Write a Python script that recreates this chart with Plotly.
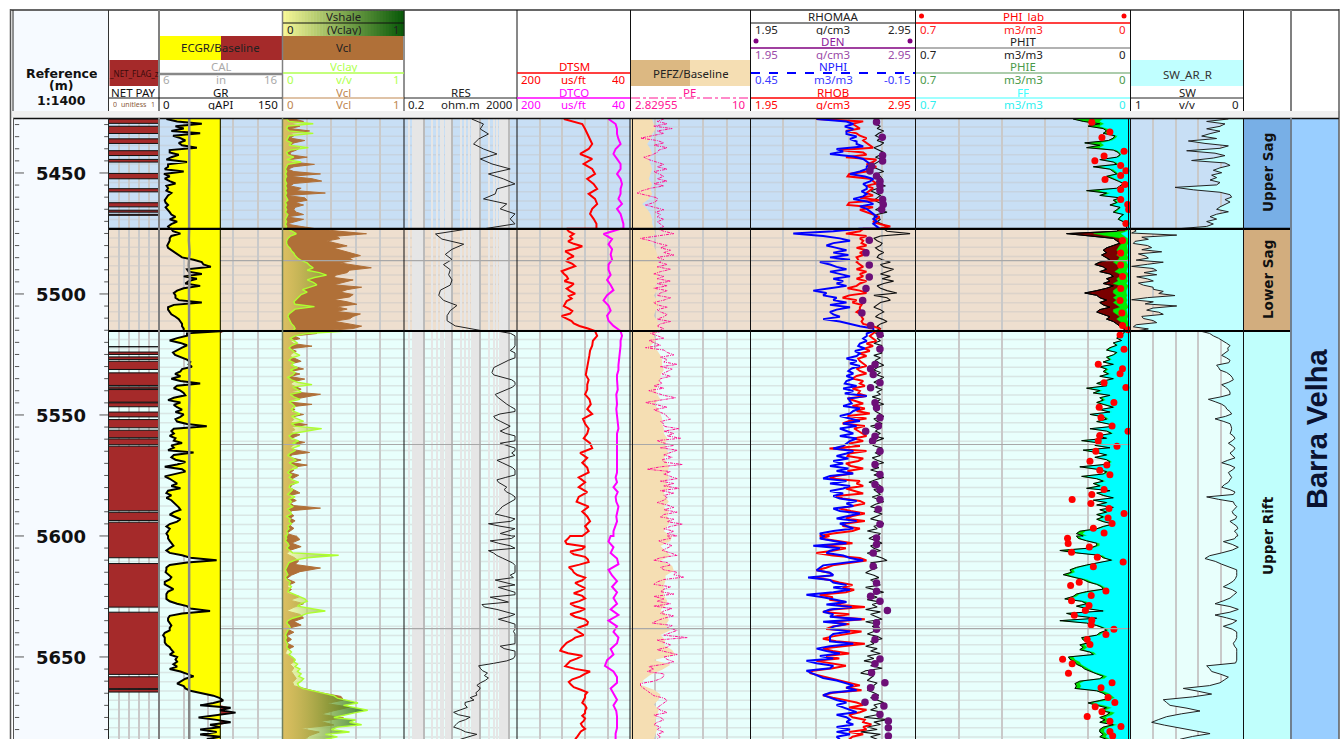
import plotly.graph_objects as go
import numpy as np

W, H = 1344, 739
ZB = [5427.7, 5473.1, 5515.3, 5600.0, 5684.0]
DEPTH_TOP, DEPTH_BOT = 5427.7, 5683.9

# ---------- curves, one list per depth interval (Upper Sag, Lower Sag, Upper Rift x2) ----------
GR_Z = [
 [9,22,52,20,30,15,50,17,26,32,24,28,46,13,13,24,15,9,34,11,11,7,30,6,13,7,13,20,9,11,9,15,11,9,7,8,11,8,11,13,15,20,13,22,15,11,13],
 [15,17,26,15,13,13,11,10,11,15,19,24,28,42,52,54,63,34,36,52,30,46,36,32,50,30,22,18,20,20,24,52,18,11,11,13,15,20,24,26,28,28,30,30],
 [79,34,34,22,13,26,34,28,22,17,19.5,28,34,38,36,40,28,26,19.5,26,15,26,50,22,18,26,30,32,18,11,26,18,22,28,20,30,26,20,22,34,58,18,15,18,13,20,18,28,15,18,11,42,18,15,20,32,22,7,28,32,18,7,13,18,22,15,26,11,9,15,9,15,18,22,24,26,18,13,20,26,22,13,9,13,11,9,11],
 [11,11,13,15,17.5,13,9,13,28,38,70,34,13,9,9,8,11,15,13,7,7,13,17.5,11,9,9,9,13,22,34,38,62,28,13,11,11,13,15,13,13,7,5,7,7,7,9,13,15,17.5,13,22,20,22,17.5,22,13,26,34,42,32,26,22,30,32,38,54,66,74,78,66,50,87,74,93,70,48,70,87,62,74,50,70,50,74,58],
]
CAL_VALUES = [8.45,8.46,8.45,8.44,8.46,8.45,8.44,8.46,8.45,8.44,8.42,8.48,8.4,8.5,8.43,8.45,8.46,8.44,8.45,8.46,8.44,8.45,8.44,8.46,8.44,8.45,8.44,8.46,8.44,8.45,8.44,8.46,8.44,8.44,8.46,8.44,8.45,8.44,8.44,8.46,8.44,8.45,8.44,8.44,8.45,8.46,8.44,8.44,8.44,8.45,8.44,8.45]
VCL_Z = [
 [.09,.17,.06,.14,.06,.22,.06,.09,.06,.18,.09,.06,.14,.11,.06,.06,.2,.06,.07,.26,.09,.04,.09,.31,.06,.24,.32,.09,.06,.15,.11,.35,.03,.18,.2,.1,.17,.1,.09,.11,.17,.03,.17,.09,.03,.15,.25],
 [.28,.47,.69,.44,.47,.36,.44,.53,.42,.5,.58,.64,.55,.58,.47,.61,.73,.55,.53,.44,.42,.58,.5,.42,.65,.53,.47,.58,.55,.42,.53,.61,.44,.53,.44,.64,.58,.55,.42,.53,.65,.58,.3],
 [.09,.28,.09,.14,.06,.09,.24,.06,.11,.07,.06,.1,.15,.06,.09,.17,.06,.14,.06,.18,.09,.06,.11,.15,.06,.31,.2,.09,.04,.24,.06,.1,.06,.17,.07,.09,.06,.2,.07,.1,.06,.14,.09,.06,.18,.09,.06,.1,.22,.07,.06,.15,.07,.2,.06,.09,.06,.13,.09,.06,.11,.07,.06,.1,.14,.06,.07,.11,.06,.09,.31,.07,.06,.09,.06,.1,.07,.06,.09,.06,.03,.1],
 [.11,.14,.07,.15,.06,.03,.09,.13,.1,.31,.14,.07,.03,.1,.03,.07,.03,.14,.06,.17,.09,.03,.14,.17,.09,.15,.03,.09,.03,.07,.03,.09,.03,.02,.08,.1,.06,.09,.07,.09,.11,.08,.09,.2,.32,.48,.5,.36,.55,.42,.31,.5,.31,.42,.14,.3,.22,.18],
]
VCLAY_Z = [
 [.03,.05,.25,.04,.03,.05,.25,.05,.04,.03,.07,.05,.21,.06,.03,.04,.09,.03,.15,.04,.03,.02,.03,.02,.03,.02,.02,.03,.02,.03,.02,.03,.02,.03,.04,.02,.03,.02,.03,.02,.04,.03,.02,.03,.02,.03,.02],
 [.04,.08,.11,.06,.04,.03,.03,.04,.06,.07,.09,.1,.12,.15,.2,.22,.25,.2,.3,.36,.26,.2,.25,.28,.22,.16,.2,.15,.13,.11,.09,.1,.26,.1,.07,.05,.04,.05,.06,.07,.09,.1,.08],
 [.53,.2,.1,.06,.09,.12,.07,.05,.08,.1,.14,.07,.05,.09,.07,.12,.06,.1,.08,.04,.07,.12,.24,.08,.12,.15,.06,.09,.14,.05,.08,.1,.07,.09,.14,.07,.12,.17,.07,.1,.32,.2,.08,.05,.07,.13,.08,.14,.08,.1,.06,.04,.07,.11,.05,.08,.12,.06,.04,.07,.05,.08,.13,.06,.05,.08,.06,.04,.1,.05,.07,.05,.08,.04,.06,.07,.03,.06,.05,.07,.04,.05,.03,.04,.03],
 [.02,.03,.02,.04,.05,.03,.06,.08,.46,.2,.1,.05,.04,.03,.02,.03,.04,.02,.03,.06,.05,.07,.05,.04,.09,.14,.18,.2,.15,.12,.22,.35,.2,.15,.08,.04,.03,.05,.06,.04,.03,.02,.03,.02,.03,.04,.03,.05,.07,.05,.08,.1,.09,.12,.1,.14,.12,.15,.13,.17,.15,.12,.13,.16,.25,.35,.42,.45,.55,.62,.5,.6,.7,.6,.5,.42,.6,.55,.65,.45,.4,.55,.35,.45,.35],
]
RES_Z = [
 [50,130,100,195,88,58,130,390,100,260,1150,195,670,1700,390,340,130,870,510,1700,1150,1700,130],
 [38,2.6,4.4,26,10,5.8,10,5,8.7,7.6,10,8.7,3.9,3.4,5,15,8.7,6.7,6.7,13,130],
 [390,1200,1700,1700,1700,1700,1700,1500,1150,1700,1700,1700,1000,670,500,300,280,260,300,600,1300,1700,1700,1400,870,500,340,400,510,650,870,1200,1700,1700,500,300,350,510,800,1150,800,510,800,1700,1700,1700,510,1000,1700,1700,1300,1700,800,390,600,870,1400,1700,1700,1700,800,390,440,600,870,700,870,1300,1700,1700,1200,870,600,510,400,340,800,1700,1200,195,500,1700,1000,510,1300],
 [1700,1300,225,450,1150,1700,195,300,390,600,870,1400,1700,1700,1700,1700,1150,1500,340,700,1700,440,900,1700,1700,225,500,1000,115,140,390,800,1700,1000,440,900,1700,1700,1700,1500,1700,1700,1700,1700,1700,510,700,1700,1700,1700,1500,870,300,88,100,120,180,140,195,150,100,76,100,90,70,76,44,60,29,29,35,20,11.4,17,44,30,17,14,11.4,20,30,76,40,20],
]
DTSM_Z = [
 [134,108,104,101,97,94,99,111,94,106,94,90,101,92,87,99,90,87,94,97,92,88,88],
 [130,127,120,125,122,128,120,108,118,132,125,120,128,130,122,118,128,137,134,130,128,133,120,124,130,125,118,127,123,130,132,134,127,122,125,137,130,123,120,112,100,90],
 [90,87,93,94,97,98,99,101,102,103,99,101,101,104,98,96,101,94,107,104,99,101,106,97,94,111,101,108,101,99,113,104,113,101,113,116,99,108,101,97,104,99,108],
 [125,128,132,130,104,108,125,120,104,100,99,112,127,122,120,115,104,108,118,112,104,110,120,108,104,112,125,118,104,112,125,118,104,100,101,112,118,112,106,118,123,130,134,137,139,128,108,115,125,128,132,118,97,105,111,122,127,124,120,110,101,104,104,106,108,104,102,104,104,108,104,106,110,108,104,110,112,115,118],
]
DTCO_Z = [
 [71,61,59,59,57,54,61,64,59,54,54,59,54,52,54,54,57,52,59,54,52,50,50],
 [54,78,66,71,66,68,66,71,71,68,73,68,64,73,78,71,68,73,71,64,54],
 [54,52,54,54,55,55,57,57,57,59,59,59,58,60,59,59,60,59,59,57,57,59,59,60,59,59,59,60,59,59,61,59,64,58,61,60,57,59,60,59,61,64,64],
 [68,71,64,68,59,57,71,66,59,66,59,64,59,68,57,71,59,64,57,59,68,64,73,76,64,59,59,68,64,59,64,60,59,59,59,61,61],
]
PE_Z = [
 [4.8,4.4,5,4.2,5.3,4.4,4.8,4.1,3.4,4.4,4.8,4.2,5,4.5,4.4,4.1,3.6,3.9,4.4,4.8,4.4,5,4.2,4.5,4.8,4.4,5,4.2,4.8,4,3.5,3.2,3.9,4.4,4.4,4.2,3.7,4.2,4.8,4.3,4.6,4.4,4.8,4.4,4.6,4.8,4.4],
 [4.4,4.8,5.4,4.4,3.4,4,4.4,5,4.6,5.2,4.8,5.4,4.4,4.8,4.5,5,4.4,5.2,4.6,4.2,4.8,4.4,5.2,4.4,5,4.2,5,4.6,4.4,5.2,4.8,4.2,4.4,5,4.4,4.6,5,4.8,4.4,5.2,4.6,4.4,4.8,4.5],
 [4.8,4,4.4,4.8,3.9,4.2,4.6,3.7,4.8,5,5.4,4.6,5,4.8,5.6,4.6,5.3,5,4.7,5.2,4.6,4.5,4.7,4.2,4.8,3.9,4.4,4.8,5.5,4.6,3.7,4.4,5,4.2,4.6,4.9,5,5.2,4.6,4.8,4.8,5.7,4.8,5.4,5,5.8,4.4,4.8,5.4,4.6,5.6,5.2,4.8,5.3,4.7,4.8,5.9,4.6,3.8,5.2,4.8,5.2,5.6,4.6,5.4,4.8,5.7,4.6,5.4,4.8,5,4.8,4.4,5,5.4,4.8,5.6,4.8,4.6,5.4,5,5.9,5.2,4.8,5.4,5,5.6],
 [5,5.2,4.5,4.8,5.3,5,4.7,5.2,5.6,4.6,4.2,5,5.2,4.6,4.8,5.6,5.4,6,4.8,4.4,4.2,5.2,4.8,4.6,5.4,4.2,4.8,4.4,5.2,4.2,5.3,4.8,4.6,5.4,4.8,4.4,4.1,5.3,5,5.6,5.2,4.8,6.2,4.4,4.8,5.2,5,4.4,5,5.6,4.8,5,5.4,4.8,3.9,4.2,3.8,4.8,4.8,4.6,4.2,3.4,3.4,3.6,3.8,4,4.2,4.8,5,4.8,4.6,4.4,4.6,5,4.2,4.6,4.8,4.4,4.2,4.6,4.4,4.8,4.4,4.6,4.4],
]
PEFZ_Z = [
 [4.1,4.2,4.3,4.1,4.0,3.8,4.0,4.1,3.9,4.0,4.1,4.0,3.9,4.1,4.0,4.1,3.9,3.5,3.8,4.0,4.1,4.1,4.2],
 [4.2,4.3,3.7,4.1,4.3,4.4,4.5,4.4,4.6,4.4,4.5,4.3,4.4,4.2,4.4,4.5,4.3,4.2,4.4,4.5,4.4],
 [4.4,4.2,4.3,4.0,4.4,4.6,4.7,4.7,4.8,4.6,4.6,4.5,4.3,4.4,4.6,4.2,4.5,4.6,4.7,4.7,4.8,4.8,5,4.9,4.9,5.1,4.8,5.0,5.1,5,5.1,4.9,5.2,4.8,4.9,5.1,4.8,5.1,5,5.2,5.0,4.8,5.2],
 [5.3,5.2,4.6,4.9,5.2,4.6,5.3,5.4,4.9,4.9,4.8,4.8,4.8,5.0,4.9,4.6,5.0,5.1,4.9,5.2,4.6,4.9,4.8,5.3,5.5,4.2,5.2,4.7,4.0,3.6,3.4,4.2,4.6,4.5,4.2,4.5,4.4,4.3,4.3,4.4,4.3,4.2],
]
RHOB_Z = [
 [2.35,2.635,2.57,2.595,2.615,2.53,2.595,2.615,2.655,2.635,2.655,2.675,2.695,2.49,2.635,2.655,2.53,2.715,2.695,2.655,2.715,2.675,2.655,2.55,2.54,2.675,2.695,2.715,2.655,2.695,2.675,2.655,2.695,2.615,2.735,2.55,2.54,2.695,2.615,2.655,2.695,2.735,2.715,2.695,2.735,2.8,2.715],
 [2.635,2.615,2.53,2.655,2.615,2.635,2.625,2.655,2.595,2.655,2.615,2.635,2.595,2.605,2.595,2.615,2.635,2.595,2.655,2.615,2.635,2.595,2.655,2.615,2.595,2.54,2.615,2.655,2.55,2.51,2.595,2.57,2.625,2.615,2.615,2.595,2.625,2.625,2.635,2.625,2.635,2.695,2.735,2.735],
 [2.715,2.695,2.675,2.695,2.715,2.655,2.695,2.645,2.675,2.615,2.655,2.605,2.615,2.635,2.655,2.595,2.615,2.655,2.595,2.57,2.635,2.615,2.645,2.57,2.615,2.605,2.655,2.54,2.595,2.635,2.57,2.645,2.595,2.675,2.54,2.655,2.55,2.51,2.645,2.58,2.605,2.635,2.655,2.58,2.635,2.55,2.615,2.43,2.655,2.55,2.54,2.635,2.605,2.53,2.56,2.635,2.54,2.57,2.47,2.43,2.615,2.595,2.635,2.53,2.58,2.635,2.47,2.51,2.615,2.645,2.57,2.49,2.56,2.645,2.57,2.53,2.645,2.53,2.51,2.615,2.57,2.45,2.37],
 [2.43,2.38,2.47,2.57,2.39,2.53,2.45,2.35,2.45,2.615,2.655,2.55,2.45,2.41,2.35,2.43,2.45,2.34,2.43,2.49,2.57,2.51,2.58,2.53,2.37,2.45,2.43,2.53,2.47,2.645,2.45,2.39,2.55,2.45,2.645,2.43,2.55,2.45,2.41,2.625,2.53,2.45,2.39,2.47,2.645,2.53,2.39,2.45,2.55,2.41,2.49,2.35,2.43,2.53,2.45,2.33,2.31,2.37,2.43,2.49,2.55,2.615,2.53,2.625,2.45,2.39,2.45,2.53,2.595,2.635,2.55,2.655,2.615,2.55,2.57,2.645,2.635,2.685,2.635,2.655,2.55,2.635,2.57,2.55],
]
NPHI_Z = [
 [.209,.1,.075,.106,.075,.1,.1,.063,.087,.063,.063,.039,.136,.112,.16,.075,.039,.026,.014,.026,.026,.051,.087,.033,.002,.014,.039,.026,.026,.045,.026,.039,.075,.026,.002,.051,.026,.014,.002,-.01,.002,-.01,.002,-.01,-.022],
 [.051,.148,.294,.185,.124,.087,.148,.173,.136,.1,.148,.093,.16,.087,.197,.16,.136,.1,.16,.124,.087,.148,.112,.136,.1,.16,.221,.173,.185,.136,.148,.1,.16,.087,.136,.16,.148,.124,.185,.124,.087,.051,.002,.002],
 [.002,.026,.026,.039,.026,.051,.057,.033,.069,.051,.063,.1,.063,.087,.051,.081,.093,.075,.1,.075,.1,.106,.063,.112,.075,.106,.026,.093,.087,.081,.112,.051,.075,.087,.124,.087,.051,.112,.063,.124,.1,.075,.124,.063,.087,.1,.112,.148,.075,.1,.136,.093,.148,.112,.16,.093,.136,.075,.16,.185,.1,.16,.087,.112,.16,.112,.148,.124,.063,.1,.075,.148,.124,.051,.1,.136,.063,.124,.1,.075,.148,.197,.185],
 [.179,.197,.148,.1,.221,.124,.16,.173,.112,.087,.039,.112,.185,.197,.209,.16,.148,.24,.16,.148,.1,.148,.087,.148,.246,.185,.148,.1,.173,.081,.16,.185,.148,.16,.045,.185,.1,.148,.16,.087,.148,.16,.16,.16,.075,.16,.209,.173,.124,.197,.148,.246,.209,.148,.16,.246,.227,.209,.185,.136,.1,.075,.1,.063,.16,.185,.16,.136,.1,.136,.112,.087,.063,.136,.1,.087,.1,.075,.136,.087,.136,.087,.136,.124],
]
RHOMAA_Z = [
 [2.71,2.72,2.70,2.74,2.72,2.76,2.73,2.71,2.74,2.72,2.76,2.74,2.70,2.73,2.76,2.74,2.71,2.75,2.72,2.70,2.69,2.73,2.76,2.71,2.74,2.75,2.72,2.70,2.77,2.73,2.68,2.71,2.74,2.72,2.70,2.73,2.76,2.74,2.71,2.78,2.72,2.70,2.74,2.72,2.75,2.78,2.74],
 [2.76,2.78,2.92,2.74,2.70,2.72,2.75,2.74,2.71,2.73,2.76,2.73,2.72,2.75,2.80,2.74,2.76,2.82,2.78,2.74,2.80,2.75,2.82,2.76,2.72,2.74,2.78,2.84,2.70,2.78,2.80,2.74,2.72,2.70,2.74,2.76,2.73,2.71,2.75,2.78,2.74,2.72,2.74,2.71],
 [2.74,2.71,2.76,2.72,2.74,2.70,2.75,2.72,2.73,2.75,2.70,2.74,2.71,2.73,2.76,2.72,2.70,2.74,2.72,2.76,2.73,2.70,2.74,2.71,2.75,2.72,2.74,2.69,2.74,2.72,2.76,2.70,2.73,2.71,2.74,2.76,2.70,2.72,2.75,2.68,2.73,2.71,2.74,2.70,2.76,2.72,2.68,2.70,2.75,2.73,2.71,2.74,2.69,2.72,2.76,2.70,2.73,2.68,2.74,2.70,2.76,2.71,2.67,2.73,2.75,2.70,2.72,2.74,2.69,2.72,2.76,2.71,2.68,2.74,2.70,2.75,2.72,2.68,2.74,2.76,2.70,2.72,2.66,2.74,2.72],
 [2.70,2.67,2.72,2.75,2.68,2.70,2.74,2.66,2.71,2.75,2.78,2.68,2.70,2.72,2.68,2.65,2.70,2.73,2.68,2.71,2.74,2.65,2.70,2.76,2.68,2.72,2.66,2.74,2.69,2.72,2.65,2.74,2.68,2.71,2.75,2.65,2.72,2.69,2.74,2.70,2.66,2.72,2.75,2.68,2.70,2.65,2.72,2.68,2.74,2.66,2.70,2.64,2.72,2.68,2.75,2.65,2.62,2.70,2.68,2.66,2.72,2.70,2.70,2.66,2.70,2.73,2.68,2.72,2.76,2.70,2.72,2.68,2.75,2.72,2.64,2.78,2.70,2.74,2.66,2.72,2.62,2.74,2.68,2.72],
]
DEN_DEPTH = [5428.9,5435.2,5442.8,5445.1,5447.2,5449.2,5451.3,5453.4,5455.2,5457.2,5461,5463,5465.1,5477.8,5483,5488,5493,5497.7,5502.7,5507.9,5513,5516.7,5522.7,5529.1,5530.9,5533.3,5536.7,5538.8,5545,5547,5551.2,5554.6,5556.7,5558.8,5560.8,5565,5570.5,5574.6,5578.7,5580.8,5584.9,5589,5595.2,5600.8,5603.5,5607,5612.5,5619.4,5622.8,5624.9,5627,5630.8,5635.9,5638.6,5642.8,5650.8,5652.8,5656.5,5660.7,5662.7,5666.6,5668.7,5670.3,5673.8,5676.5,5679.3,5682.7]
DEN_VALUES = [2.716,2.751,2.753,2.753,2.686,2.676,2.716,2.737,2.737,2.737,2.753,2.757,2.747,2.672,2.652,2.672,2.672,2.652,2.632,2.627,2.68,2.737,2.737,2.707,2.68,2.696,2.737,2.68,2.707,2.716,2.737,2.727,2.65,2.707,2.692,2.737,2.707,2.737,2.707,2.737,2.737,2.727,2.737,2.716,2.716,2.696,2.696,2.716,2.716,2.68,2.737,2.782,2.716,2.716,2.707,2.737,2.707,2.686,2.767,2.68,2.707,2.646,2.761,2.737,2.788,2.788,2.788]
PHIT_Z = [
 [.187,.154,.100,.138,.089,.078,.089,.051,.056,.072,.149,.100,.143,.056,.040,.034,.045,.100,.056,.045,.121,.067,.056,.045,.078,.056,.040,.023,.034,.045,.143,.078,.100,.034,.056,.045,.067,.034,.045,.056,.023,.034,.040,.023,.013,.013,.013],
 [.034,.045,.208,.121,.056,.045,.034,.056,.078,.089,.078,.094,.078,.067,.1,.116,.089,.078,.1,.067,.056,.078,.067,.089,.056,.078,.11,.149,.11,.1,.078,.1,.089,.067,.1,.11,.089,.067,.078,.056,.045,.034,.023,.013],
 [.018,.023,.034,.045,.029,.056,.045,.067,.078,.045,.056,.078,.067,.089,.056,.1,.078,.089,.072,.1,.056,.089,.11,.078,.143,.1,.121,.067,.1,.089,.11,.078,.056,.1,.067,.132,.089,.078,.11,.072,.056,.132,.078,.062,.11,.078,.159,.1,.116,.067,.154,.11,.078,.116,.078,.067,.083,.165,.11,.078,.089,.159,.11,.089,.121,.1,.143,.067,.11,.089,.056,.121,.078,.11,.056,.1,.078,.11,.089,.11,.089,.056,.089,.11,.165,.176,.154],
 [.176,.17,.143,.11,.11,.132,.23,.176,.1,.089,.062,.11,.143,.176,.197,.192,.219,.187,.154,.138,.11,.094,.089,.143,.176,.187,.214,.159,.143,.176,.143,.089,.208,.176,.11,.23,.143,.11,.089,.078,.1,.11,.159,.154,.132,.165,.154,.165,.132,.121,.202,.197,.181,.176,.159,.149,.132,.11,.089,.1,.165,.181,.176,.181,.11,.089,.078,.067,.1,.138,.11,.078,.1,.067,.078,.1,.083,.1,.056,.089,.1,.1,.089,.1,.078],
]
PHIE_LOWER = [.013,.018,.12,.08,.03,.03,.025,.035,.04,.045,.035,.045,.035,.04,.056,.045,.034,.04,.051,.034,.034,.045,.04,.056,.034,.045,.056,.056,.045,.056,.045,.056,.045,.034,.056,.056,.045,.034,.045,.034,.023,.018,.013,.007]
FF_Z = [
 [.09,.10,.085,.10,.075,.068,.075,.042,.047,.06,.095,.085,.10,.045,.034,.03,.038,.085,.047,.038,.095,.056,.047,.038,.065,.047,.034,.02,.03,.038,.10,.065,.085,.03,.047,.038,.056,.03,.038,.047,.02,.03,.034,.02,.012,.012,.012],
 [.007,.01,.03,.02,.008,.008,.006,.01,.008,.008,.007,.01,.006,.008,.012,.008,.007,.01,.012,.006,.007,.01,.008,.012,.006,.01,.012,.012,.01,.012,.01,.012,.01,.006,.012,.01,.01,.007,.01,.007,.006,.005,.005,.005],
 [.015,.02,.03,.04,.026,.05,.04,.06,.07,.04,.05,.07,.06,.08,.05,.09,.07,.08,.065,.09,.05,.08,.1,.07,.125,.09,.11,.06,.09,.08,.1,.07,.05,.09,.06,.12,.08,.07,.1,.065,.05,.12,.07,.055,.1,.07,.14,.09,.105,.06,.135,.1,.07,.105,.07,.06,.075,.145,.1,.07,.08,.14,.1,.08,.11,.09,.125,.06,.1,.08,.05,.11,.07,.1,.05,.09,.07,.1,.08,.1,.08,.05,.08,.1,.145,.155,.14],
 [.165,.16,.135,.1,.1,.12,.2,.16,.09,.08,.055,.1,.13,.165,.185,.18,.2,.175,.14,.125,.1,.085,.08,.13,.165,.175,.195,.145,.13,.165,.13,.08,.19,.165,.1,.205,.13,.1,.08,.07,.09,.1,.145,.14,.12,.15,.14,.15,.12,.11,.185,.18,.165,.16,.145,.135,.12,.095,.075,.085,.15,.165,.16,.165,.09,.07,.06,.05,.075,.12,.085,.06,.08,.05,.06,.08,.065,.08,.04,.07,.085,.085,.075,.08,.065],
]
PHI_LAB_DEPTH = [5429,5433.1,5435.3,5441,5443,5445,5446.9,5449.1,5451,5452.7,5454.8,5456.8,5461,5463,5465.1,5470.9,5477.9,5483.1,5488,5492.8,5497.7,5502.7,5507.9,5513,5514.8,5517,5522.8,5529,5530.9,5533,5536.7,5538.6,5544.8,5546.8,5551,5554.6,5556.7,5558.5,5560.8,5562.9,5565,5569.1,5570.7,5572.8,5574.7,5580.8,5582.9,5584.9,5586.6,5588.6,5590.7,5592.6,5594.8,5596.8,5598.8,5600.9,5603.1,5604.6,5606.7,5608.8,5610.8,5612.7,5619.1,5620.5,5622.7,5624.6,5626.8,5628.7,5630.8,5632.8,5634.8,5636.7,5638.6,5640.7,5642.8,5644.8,5650.9,5652.8,5656.7,5660.7,5662.7,5666.7,5668.8,5670.6,5672.6,5674.6,5676.6,5678.7,5680.8,5682.7]
PHI_LAB_VALUES = [.126,.067,.093,.021,.086,.116,.032,.015,.032,.083,.018,.032,.032,.009,.006,.015,.026,.032,.032,.026,.032,.034,.028,.026,.008,.034,.021,.105,.026,.034,.086,.015,.054,.102,.096,.06,.008,.1,.105,.044,.113,.132,.077,.1,.067,.086,.126,.19,.129,.07,.021,.073,.06,.121,.086,.205,.203,.134,.192,.108,.024,.121,.167,.195,.08,.128,.192,.135,.147,.183,.126,.128,.054,.08,.141,.132,.221,.19,.202,.06,.096,.073,.051,.115,.093,.141,.067,.031,.067,.058]
SW_Z = [
 [.134,.326,.164,.208,.326,.208,.296,.37,.238,.488,.341,.134,.208,.503,.252,.164,.267,.459,.164,.119,.208,.267,.193,.282,.238,.296,.208,.238,.606,.444,.208,.119,.105,.164,.119,.164,.208,.238,.134,.238,.296,.238,.326,.267,.326,.59],
 [.975,.95,.99,.591,.9,.842,.96,.975,.85,.813,.9,.724,.93,.87,.842,.95,.71,.85,.99,.8,.768,.88,.768,.945,.85,.798,.93,.886,.8,.798,.71,.75,.606,.85,.99,.798,.87,.591,.8,.857,.75,.71,.9,.886,.8,.768,.95,.975,.842,.95],
 [.385,.3,.267,.22,.178,.15,.119,.14,.134,.16,.193,.15,.119,.13,.238,.22,.208,.15,.119,.1,.09,.13,.193,.16,.134,.12,.119,.2,.311,.25,.193,.16,.148,.12,.105,.16,.252,.18,.119,.11,.105,.11,.119,.09,.075,.1,.134,.1,.075,.09,.119,.1,.075,.14,.193,.12,.075,.1,.134,.12,.105,.12,.134,.17,.193,.12,.075,.09,.326,.22,.09,.08,.06,.08,.1,.09,.06,.07,.12,.09,.06,.05,.08,.06,.05],
 [.06,.08,.178,.1,.046,.1,.193,.3,.341,.25,.193,.12,.06,.06,.06,.07,.09,.13,.178,.1,.06,.09,.119,.18,.252,.12,.046,.12,.252,.15,.06,.1,.178,.1,.06,.06,.06,.07,.09,.08,.06,.06,.06,.06,.06,.07,.326,.3,.282,.2,.134,.17,.208,.3,.533,.4,.282,.45,.71,.68,.65,.5,.385,.55,.68,.75,.813,.7,.562,.4,.296,.45,.562],
]
NET_TOPS = [5427.7,5430.7,5435.9,5440.8,5444.4,5450.2,5456.5,5462.3,5465.4,5467.1,5521.8,5524,5526,5527.8,5532.6,5538.4,5539.5,5545,5548.8,5551.9,5556.3,5559.9,5562.9,5590.2,5594.3,5611.4,5631.5,5658.2,5663.4]
NET_BASES = [5429.5,5433.7,5437.8,5442.8,5445.5,5452.4,5457.8,5464,5466.2,5467.5,5522.1,5525,5527.1,5531.2,5537.8,5539.2,5544.7,5546.6,5550.8,5555.3,5559.4,5562.3,5589.6,5593.6,5609,5629.4,5657.2,5663.1,5664.5]
DEPTH_LABELS = [5450, 5500, 5550, 5600, 5650]
ZONE_NAMES = ["Upper Sag", "Lower Sag", "Upper Rift"]
ZONE_TOPS = [5427.7, 5473.1, 5515.3]
ZONE_BASES = [5473.1, 5515.3, 5683.9]
ZONE_FILLS = ["#c8dff5", "#eedfcf", "#e8fffc"]
ZONE_TAGS = ["#78afe6", "#d2ad7e", "#c0fffc"]

# ---------- helpers ----------
def X(px): return px / W
def Y(py): return 1 - py / H

def along(parts):
    ds, vs = [], []
    for i, p in enumerate(parts):
        ds += list(np.linspace(ZB[i], ZB[i + 1], len(p)))
        vs += list(p)
    return np.array(ds), np.array(vs, dtype=float)

FONT = "Noto Sans"
fig = go.Figure()
shapes, notes = [], []

def rect(x0, y0, x1, y1, color):
    shapes.append(dict(type="rect", xref="paper", yref="paper", x0=X(x0), x1=X(x1), y0=Y(y0), y1=Y(y1),
                       fillcolor=color, line=dict(width=0), layer="below"))

def hline(x0, x1, py, color, width=1, dash="solid", layer="above"):
    shapes.append(dict(type="line", xref="paper", yref="paper", x0=X(x0), x1=X(x1), y0=Y(py), y1=Y(py),
                       line=dict(color=color, width=width, dash=dash), layer=layer))

def vline(px, y0, y1, color, width=1):
    shapes.append(dict(type="line", xref="paper", yref="paper", x0=X(px), x1=X(px), y0=Y(y0), y1=Y(y1),
                       line=dict(color=color, width=width), layer="above"))

def txt(s, px, py, color="#111", size=11.5, anchor="center", family=FONT, angle=0, tight=True):
    boxed = tight and angle == 0 and size <= 12.5
    n = dict(text=s, x=X(px), y=Y(py - 1 if boxed else py), xref="paper", yref="paper", showarrow=False, xanchor=anchor,
             yanchor="middle", font=dict(color=color, size=size, family=family), textangle=angle,
             borderpad=0, borderwidth=0)
    if boxed:
        n["height"] = 12
    notes.append(n)

def scale(x0, x1, py, lo, unit, hi, color):
    txt(lo, x0 + 4, py, color, anchor="left")
    if unit:
        txt(unit, (x0 + x1) / 2, py, color)
    txt(hi, x1 - 4, py, color, anchor="right")

# ---------- axes ----------
axes = {}
def track(n, px0, px1, rng, dtick=None, tick0=None, log=False, grid=True):
    cfg = dict(domain=[X(px0), X(px1)], range=rng, anchor="y", showticklabels=False, ticks="", zeroline=False,
               showline=False, showgrid=grid, gridcolor="#c9c9c9", gridwidth=2, fixedrange=True)
    if log:
        cfg.update(type="log", dtick=1, gridcolor="#bbbbbb",
                   minor=dict(showgrid=True, dtick="D1", gridcolor="#e6e6e6", gridwidth=1.5, ticks=""))
    elif dtick:
        cfg.update(dtick=dtick, tick0=rng[0] if tick0 is None else tick0)
    axes["xaxis" if n == 1 else f"xaxis{n}"] = cfg
    return "x" if n == 1 else f"x{n}"

xD = track(1, 13, 108.5, [0, 1], grid=False)
xN = track(2, 108.5, 159, [0, 1], dtick=.2)
xG = track(3, 159, 282.5, [0, 150], dtick=30)
xC = track(4, 159, 282.5, [6, 16], grid=False)
xV = track(5, 283, 404, [0, 1], dtick=.2)
xR = track(6, 404, 517, [np.log10(.2), np.log10(2000)], log=True)
xT = track(7, 517, 630.5, [200, 40], dtick=32)
xP = track(8, 631, 750.5, [2.82955, 10], dtick=1.434)
xB = track(9, 750.5, 915, [1.95, 2.95], dtick=.2)
xH = track(10, 915.5, 1130.5, [.7, 0], dtick=.14)
xS = track(11, 1130.5, 1243.5, [1, 0], dtick=.2)

def line(xa, d, v, color, width=1, name="", fill=None, fillcolor=None, dash="solid", **kw):
    fig.add_trace(go.Scatter(x=v, y=d, xaxis=xa, yaxis="y", mode="lines", name=name, showlegend=False,
                             hoverinfo="skip", line=dict(color=color, width=width, dash=dash),
                             fill=fill, fillcolor=fillcolor, **kw))

# ---------- depth column ----------
tick_x, tick_y = [], []
for d in range(5430, 5685, 5):
    major = d % 50 == 0
    a, b = (.02, .115) if major else (.02, .065)
    c, e = (.905, 1) if major else (.955, 1)
    tick_x += [a, b, None, c, e, None]
    tick_y += [d, d, None, d, d, None]
line(xD, tick_y, tick_x, "#555555", 1, "ticks")
for d in DEPTH_LABELS:
    notes.append(dict(text="<b>%d</b>" % d, x=X(60.7), xref="paper", y=d, yref="y", yshift=-0.5, showarrow=False,
                      xanchor="center", yanchor="middle",
                      font=dict(family="DejaVu Sans", size=18, color="#111111")))

# ---------- net pay ----------
nx, ny = [], []
for t, b in zip(NET_TOPS, NET_BASES):
    nx += [0, 1, 1, 0, 0, None]
    ny += [t, t, b, b, t, None]
line(xN, ny, nx, "#111111", 1, "NET PAY", fill="toself", fillcolor="#a52a2a")

# ---------- GR / CAL ----------
gd, gv = along(GR_Z)
base = np.full_like(gv, 75.0)
line(xG, gd, base, "rgba(0,0,0,0)", 0, "base")
line(xG, gd, np.minimum(gv, 75), "rgba(0,0,0,0)", 0, "ECGR", fill="tonextx", fillcolor="#ffff00")
line(xG, gd, base, "rgba(0,0,0,0)", 0, "base")
line(xG, gd, np.maximum(gv, 75), "rgba(0,0,0,0)", 0, "Baseline", fill="tonextx", fillcolor="#a52a2a")
line(xC, np.linspace(DEPTH_TOP, DEPTH_BOT, len(CAL_VALUES)), CAL_VALUES, "#888888", 2.5, "CAL")
line(xG, gd, gv, "#000000", 2, "GR")

# ---------- Vcl / Vclay ----------
d, v = along(VCL_Z)
line(xV, d, v, "#b07038", 1, "Vcl", fill="tozerox", fillcolor="#b07038")
d, v = along(VCLAY_Z)
line(xV, d, v, "#adff2f", 1.4, "Vclay", fill="tozerox",
     fillgradient=dict(type="horizontal", start=0, stop=.75,
                       colorscale=[[0, "rgba(255,255,130,.55)"], [.5, "rgba(130,170,60,.72)"], [1, "rgba(20,100,20,.88)"]]))

# ---------- RES ----------
d, v = along(RES_Z)
line(xR, d, v, "#222222", 1, "RES")

# ---------- sonic ----------
d, v = along(DTSM_Z)
line(xT, d, v, "#ff0000", 2, "DTSM")
d, v = along(DTCO_Z)
line(xT, d, v, "#ff00ff", 2, "DTCO")

# ---------- PE ----------
d, v = along(PEFZ_Z)
line(xP, d, v, "rgba(0,0,0,0)", 0, "PEFZ", fill="tozerox", fillcolor="#f5deb3")
d, v = along(PE_Z)
line(xP, d, v, "#ff1493", 1, "PE", dash="3px,1px,1px,1px")

# ---------- density ----------
d, v = along(RHOMAA_Z)
line(xB, d, v, "#111111", 1.1, "RHOMAA")
d, v = along(RHOB_Z)
line(xB, d, v, "#ff0000", 2, "RHOB")
d, v = along(NPHI_Z)
fig.add_trace(go.Scatter(x=(.45 - v) / .6 + 1.95, y=d, xaxis=xB, yaxis="y", mode="lines", name="NPHI", showlegend=False,
                         hoverinfo="skip", line=dict(color="#0000ff", width=2)))
fig.add_trace(go.Scatter(x=DEN_VALUES, y=DEN_DEPTH, xaxis=xB, yaxis="y", mode="markers", name="DEN", showlegend=False,
                         hoverinfo="skip", marker=dict(color="#6d0f78", size=7.5)))

# ---------- porosity ----------
dz = np.linspace(ZB[1], ZB[2], len(PHIT_Z[1]))
line(xH, dz, PHIT_Z[1], "#000000", 1, "PHIT", fill="tozerox", fillcolor="#7a0000")
line(xH, dz, PHIE_LOWER, "#00dd00", 0.5, "PHIE", fill="tozerox", fillcolor="#00ee00")
for i in (0, 2, 3):
    dz = np.linspace(ZB[i], ZB[i + 1], len(PHIT_Z[i]))
    line(xH, dz, PHIT_Z[i], "#00cc00", .5, "PHIE", fill="tozerox", fillcolor="#00e000")
d, v = along(FF_Z)
line(xH, d, v, "#00ffff", .5, "FF", fill="tozerox", fillcolor="#00ffff")
d, v = along(PHIT_Z)
line(xH, d, v, "#000000", 1, "PHIT")
fig.add_trace(go.Scatter(x=PHI_LAB_VALUES, y=PHI_LAB_DEPTH, xaxis=xH, yaxis="y", mode="markers", name="PHI_lab",
                         showlegend=False, hoverinfo="skip", marker=dict(color="#ff0000", size=7)))

# ---------- SW ----------
d, v = along(SW_Z)
line(xS, d, v, "#222222", 1, "SW", fill="tozerox", fillcolor="#c0ffff")

# ---------- backgrounds ----------
rect(10, 9, 1340, 739, "#ffffff")
rect(13, 11, 108, 111, "#f6faff")
rect(13, 118, 108, 739, "#f6faff")
for t, b, c, tag in zip(ZONE_TOPS, ZONE_BASES, ZONE_FILLS, ZONE_TAGS):
    shapes.append(dict(type="rect", xref="paper", yref="y", x0=X(108.5), x1=X(1243.5), y0=t, y1=b,
                       fillcolor=c, line=dict(width=0), layer="below"))
    shapes.append(dict(type="rect", xref="paper", yref="y", x0=X(1243.5), x1=X(1291), y0=t, y1=b,
                       fillcolor=tag, line=dict(width=0), layer="below"))
shapes.append(dict(type="rect", xref="paper", yref="y", x0=X(1291), x1=X(1338.5), y0=DEPTH_TOP, y1=DEPTH_BOT,
                   fillcolor="#99ceff", line=dict(width=0), layer="below"))
d = 5431.0
while d < DEPTH_BOT:
    shapes.append(dict(type="line", xref="paper", yref="y", x0=X(108.5), x1=X(1130), y0=d, y1=d,
                       line=dict(color="rgba(195,195,195,.42)", width=1.5), layer="below"))
    d += 3.82
for d in (5486.2, 5562.2, 5638.3):
    shapes.append(dict(type="line", xref="paper", yref="y", x0=X(220), x1=X(1130), y0=d, y1=d,
                       line=dict(color="#a8a8a8", width=1.2), layer="above"))
for d in (5473.1, 5515.3):
    shapes.append(dict(type="line", xref="paper", yref="y", x0=X(108.5), x1=X(1291), y0=d, y1=d,
                       line=dict(color="#000000", width=2.2), layer="above"))

# grey band between header and tracks
rect(10, 111, 1340, 118, "#f0f0f0")
hline(10, 1339, 10, "#333333", 1.5)
hline(13, 1339, 118.5, "#111111", 1.5)
vline(10.5, 9, 739, "#555555", 1.5)
vline(13, 10, 111, "#222222", 1)
vline(13.5, 118, 739, "#555555", 1)
vline(1339, 9, 739, "#333333", 1.2)

for px, c, w in [(108.5, "#333333", 1), (159, "#808080", 2), (282.5, "#808080", 1.5), (404, "#222222", 1),
                 (517, "#111111", 1), (630.5, "#111111", 1), (750.5, "#111111", 1), (915.5, "#111111", 1),
                 (1130.5, "#111111", 1), (1243.5, "#111111", 1), (1291, "#808080", 2)]:
    vline(px, 10, 111, c, w)
for px, c, w in [(108.5, "#222222", 1), (159, "#808080", 2), (220.3, "#000000", 1), (282.5, "#708060", 1.5),
                 (404, "#111111", 1), (517, "#111111", 1), (630, "#111111", 1), (632.5, "#111111", 1),
                 (750.5, "#111111", 1), (915.5, "#111111", 1), (1128.5, "#111111", 1), (1130.5, "#111111", 1),
                 (1243.5, "#111111", 1), (1291, "#708090", 2)]:
    vline(px, 118, 739, c, w)

# ---------- header ----------
txt("<b>Reference</b>", 61, 74, "#111", 12.5, family="DejaVu Sans")
txt("<b>(m)</b>", 61, 86.5, "#111", 12.5, family="DejaVu Sans")
txt("<b>1:1400</b>", 61, 101, "#111", 12.5, family="DejaVu Sans")

# net pay
rect(109.5, 60, 158, 86, "#a52a2a")
txt("_NET_FLAG_z", 133.5, 73.5, "#3a0a0a", 8)
txt("NET PAY", 133.5, 93, "#111")
hline(109, 159, 98, "#111111", 1)
scale(109, 159, 105, "0", "unitless", "1", "#8a5a3a")
for n in notes[-3:]:
    n["font"]["size"] = 7
# GR
rect(159.5, 36, 221, 60, "#ffff00")
rect(221, 36, 282, 60, "#a52a2a")
txt("ECGR/Baseline", 220.5, 48, "#222")
txt("CAL", 221, 67, "#aaaaaa")
hline(159, 282, 74, "#888888", 2.5)
scale(159, 282, 80, "6", "in", "16", "#aaaaaa")
txt("GR", 221, 93, "#111")
hline(159, 282, 98, "#111111", 1.2)
scale(159, 282, 105, "0", "gAPI", "150", "#111")
# Vshale gradient header
c0, c1 = np.array([246, 246, 150]), np.array([10, 90, 10])
for i in range(40):
    c = c0 + (c1 - c0) * i / 39
    rect(283 + 121 * i / 40, 10.5, 283 + 121 * (i + 1) / 40 + .5, 36, "rgb(%d,%d,%d)" % tuple(c))
txt("Vshale", 343.5, 17, "#222")
hline(283, 404, 23, "#111111", 1)
txt("0", 287, 30, "#222", anchor="left")
txt("(Vclay)", 343.5, 30, "#222")
txt("1", 400, 30, "#222", anchor="right")
rect(283, 36, 403, 60, "#b07038")
txt("Vcl", 343.5, 48, "#222")
txt("Vclay", 343.5, 67, "#b0ff50")
hline(283, 404, 73, "#b0ff50", 1.5)
scale(283, 404, 80, "0", "v/v", "1", "#b0ff50")
txt("Vcl", 343.5, 93, "#c08850")
hline(283, 404, 98, "#c08850", 1.2)
scale(283, 404, 105, "0", "Vcl", "1", "#c08850")
# RES
txt("RES", 461, 93, "#222")
hline(404, 517, 98, "#222222", 1)
scale(404, 517, 105, "0.2", "ohm.m", "2000", "#222")
# DT
txt("DTSM", 574, 67, "#ff0000")
hline(517, 630, 73, "#ff0000", 1.5)
scale(517, 630, 80, "200", "us/ft", "40", "#ff0000")
txt("DTCO", 574, 93, "#ff00ff")
hline(517, 630, 98, "#ff00ff", 1.5)
scale(517, 630, 105, "200", "us/ft", "40", "#ff00ff")
# PE
rect(631, 60, 690, 86, "#dcb882")
rect(690, 60, 750, 86, "#f5deb3")
txt("PEFZ/Baseline", 690.5, 73.5, "#222")
txt("PE", 690, 93, "#ff1493")
hline(631, 750, 98, "#ff1493", 1, "dashdot")
scale(631, 750, 105, "2.82955", "", "10", "#ff1493")
# density
txt("RHOMAA", 833, 17, "#222")
hline(751, 915, 23, "#111111", 1)
scale(751, 915, 30, "1.95", "g/cm3", "2.95", "#222")
txt("DEN", 833, 42, "#8b1a9b")
hline(751, 915, 48, "#800080", 1.5)
scale(751, 915, 55, "1.95", "g/cm3", "2.95", "#9a4aa8")
txt("NPHI", 833, 67, "#2020ff")
hline(751, 915, 73, "#0000ff", 2, "dash")
scale(751, 915, 80, "0.45", "m3/m3", "-0.15", "#3a3aff")
txt("RHOB", 833, 93, "#ff0000")
hline(751, 915, 98, "#ff0000", 1.5)
scale(751, 915, 105, "1.95", "g/cm3", "2.95", "#ff0000")
# porosity
txt("PHI_lab", 1023, 17, "#ff0000")
hline(916, 1130, 23, "#ff0000", 1.5)
scale(916, 1130, 30, "0.7", "m3/m3", "0", "#ff2020")
txt("PHIT", 1023, 42, "#222")
hline(916, 1130, 48, "#666666", 1.2)
scale(916, 1130, 55, "0.7", "m3/m3", "0", "#222")
txt("PHIE", 1023, 67, "#4a9a4a")
hline(916, 1130, 73, "#5a9a5a", 1.2)
scale(916, 1130, 80, "0.7", "m3/m3", "0", "#4a9a4a")
txt("FF", 1023, 93, "#40ffff")
hline(916, 1130, 98, "#40ffff", 1.2)
scale(916, 1130, 105, "0.7", "m3/m3", "0", "#30f0f0")
# SW
rect(1131, 60, 1243, 86, "#c0ffff")
txt("SW_AR_R", 1187, 74, "#333", tight=False)
txt("SW", 1187, 93, "#222")
hline(1131, 1243, 98, "#222222", 1)
scale(1131, 1243, 105, "1", "v/v", "0", "#222")

# header legend markers
for px, py, c, r in [(756, 41, "#800080", 2.5), (910, 41, "#800080", 2.5), (921.5, 16, "#ff0000", 2.5), (1124, 16, "#ff0000", 2.5)]:
    shapes.append(dict(type="circle", xref="paper", yref="paper", x0=X(px - r), x1=X(px + r), y0=Y(py + r), y1=Y(py - r),
                       fillcolor=c, line=dict(width=0), layer="above"))

# zone labels
ZONE_LABEL_Y = [173, 280, 536]
for name, py in zip(ZONE_NAMES, ZONE_LABEL_Y):
    txt("<b>" + name + "</b>", 1268, py, "#111", 13.5, family="DejaVu Sans", angle=-90)
txt("<b>Barra Velha</b>", 1317, 429, "#0a1230", 29, family="Liberation Sans", angle=-90)

fig.update_layout(
    width=W, height=H, margin=dict(l=0, r=0, t=0, b=0), autosize=False, paper_bgcolor="#ffffff",
    plot_bgcolor="rgba(0,0,0,0)", showlegend=False, shapes=shapes, annotations=notes, hovermode=False,
    yaxis=dict(domain=[0, Y(119)], range=[DEPTH_BOT, DEPTH_TOP], anchor="x", visible=False, showgrid=False,
               zeroline=False, fixedrange=True),
    **axes,
)
fig.write_html("out.html", config={"displayModeBar": False},
               post_script="document.body.style.margin='0';document.body.style.overflow='hidden';")
